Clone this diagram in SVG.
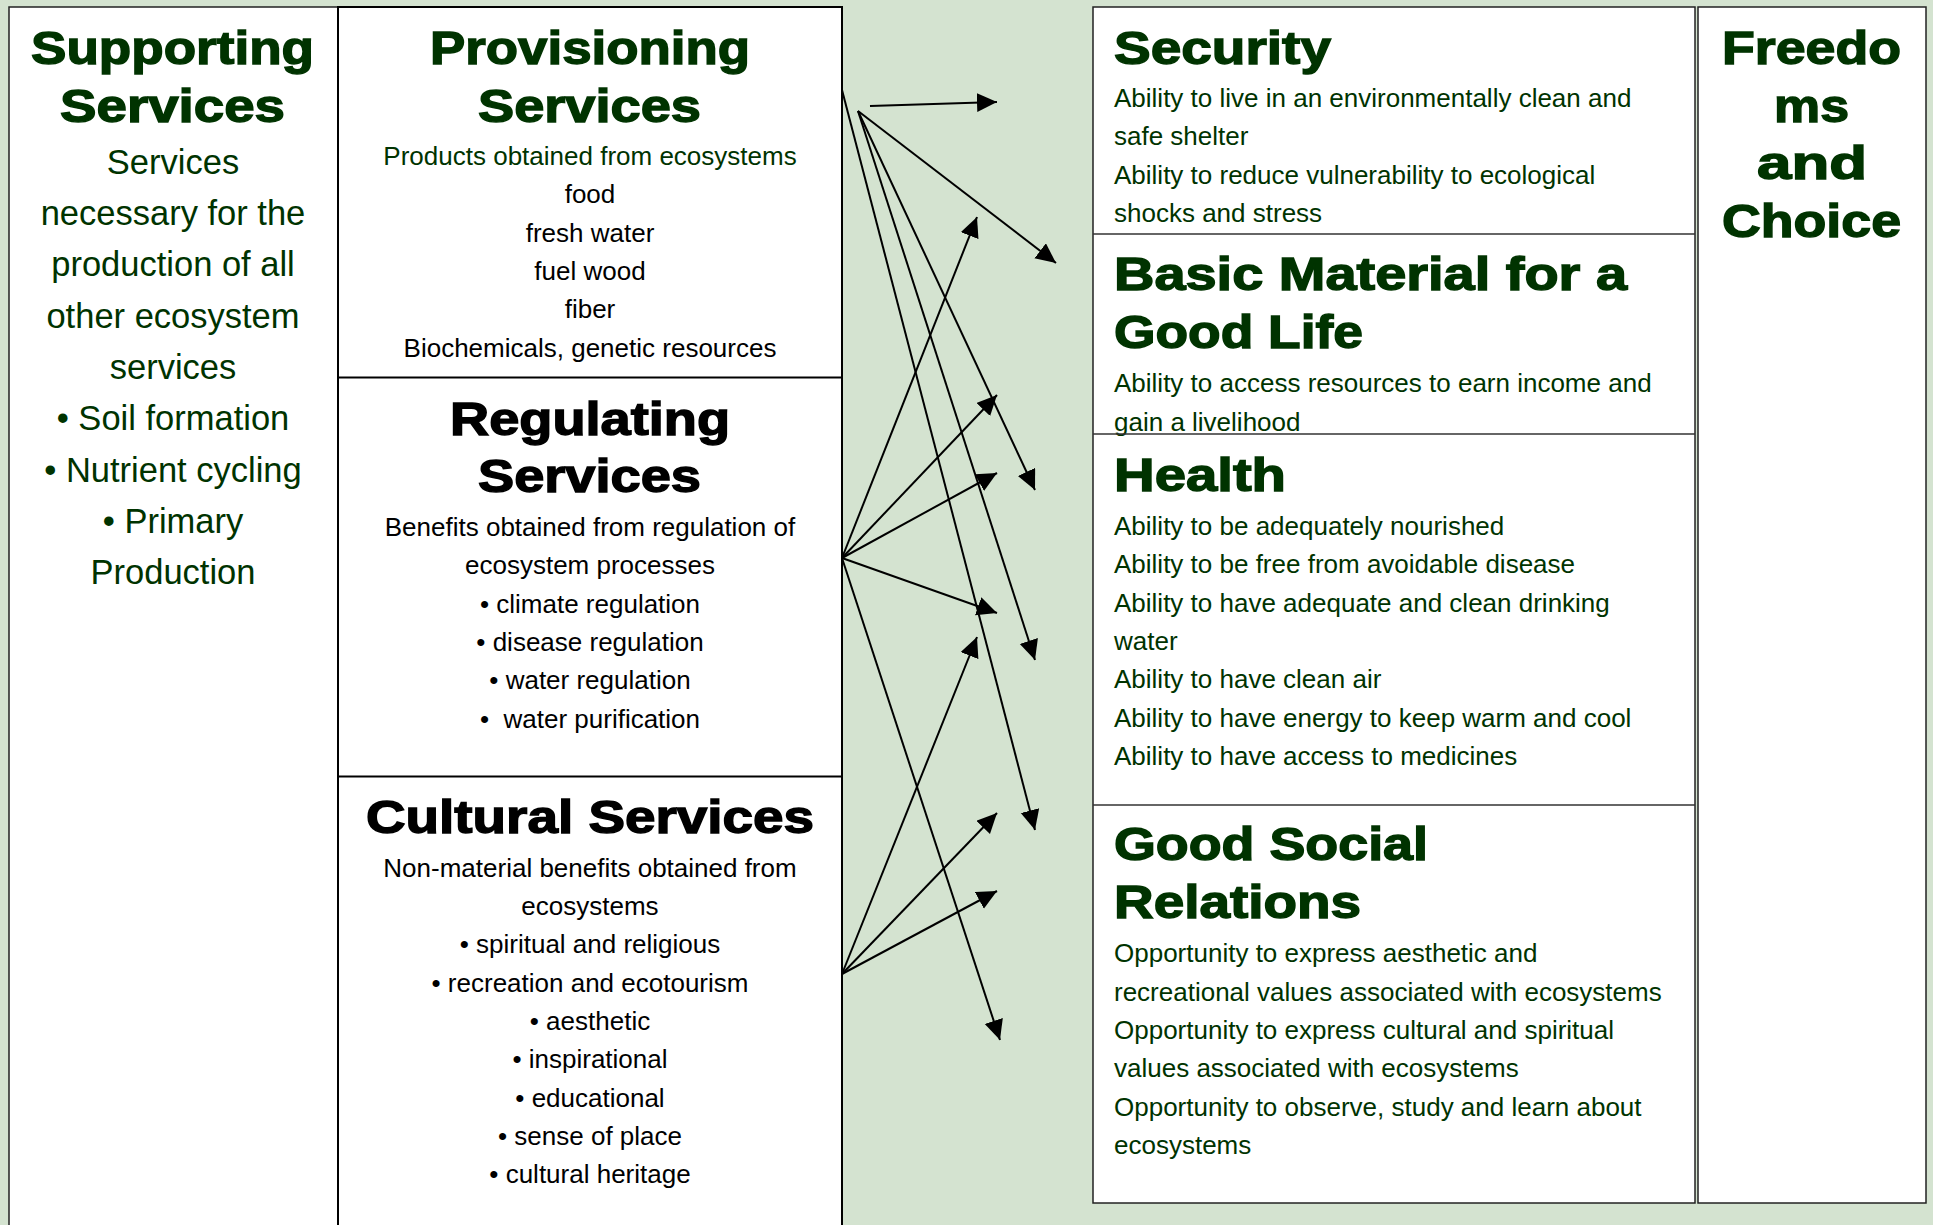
<svg xmlns="http://www.w3.org/2000/svg" width="1933" height="1225" viewBox="0 0 1933 1225">
<defs>
<style>
.box{fill:#fff;stroke:#222;stroke-width:1.5}
.mbox{fill:#fff;stroke:#000;stroke-width:2}
.div{stroke:#333;stroke-width:1.5}
.mdiv{stroke:#000;stroke-width:2}
.tg{font-family:"Liberation Sans",Arial,sans-serif;font-weight:bold;font-size:47px;fill:#003300;stroke:#003300;stroke-width:1.4}
.tb{font-family:"Liberation Sans",Arial,sans-serif;font-weight:bold;font-size:47px;fill:#000;stroke:#000;stroke-width:1.4}
.bg{font-family:"Liberation Sans",Arial,sans-serif;font-size:26px;fill:#003300}
.bb{font-family:"Liberation Sans",Arial,sans-serif;font-size:26px;fill:#000}
.lg{font-family:"Liberation Sans",Arial,sans-serif;font-size:34.5px;fill:#003300}
.c{text-anchor:middle}
.pre{white-space:pre}
.arr{stroke:#000;stroke-width:2;fill:none;marker-end:url(#ah)}
</style>
<marker id="ah" markerUnits="userSpaceOnUse" markerWidth="21" markerHeight="20" refX="20" refY="9.5" orient="auto">
<path d="M0,0 L20,9.5 L0,19 z" fill="#000"/>
</marker>
</defs>
<rect x="0" y="0" width="1933" height="1225" fill="#d4e3d0"/>

<g id="supporting">
<rect class="box" x="9" y="7" width="329" height="1230"/>
<text class="tg" x="31" y="64" textLength="283" lengthAdjust="spacingAndGlyphs">Supporting</text>
<text class="tg" x="60" y="122" textLength="225" lengthAdjust="spacingAndGlyphs">Services</text>
<text class="lg c" x="173" y="174">Services</text>
<text class="lg c" x="173" y="225">necessary for the</text>
<text class="lg c" x="173" y="276">production of all</text>
<text class="lg c" x="173" y="328">other ecosystem</text>
<text class="lg c" x="173" y="379">services</text>
<text class="lg c" x="173" y="430">• Soil formation</text>
<text class="lg c" x="173" y="482">• Nutrient cycling</text>
<text class="lg c" x="173" y="533">• Primary</text>
<text class="lg c" x="173" y="584">Production</text>
</g>

<g id="middle-column">
<rect class="mbox" x="338" y="7" width="504" height="1230"/>
</g>

<g id="provisioning">
<text class="tg" x="430" y="64" textLength="320" lengthAdjust="spacingAndGlyphs">Provisioning</text>
<text class="tg" x="478" y="122" textLength="223" lengthAdjust="spacingAndGlyphs">Services</text>
<text class="bg c" x="590" y="165">Products obtained from ecosystems</text>
<text class="bb c" x="590" y="203">food</text>
<text class="bb c" x="590" y="242">fresh water</text>
<text class="bb c" x="590" y="280">fuel wood</text>
<text class="bb c" x="590" y="318">fiber</text>
<text class="bb c" x="590" y="357">Biochemicals, genetic resources</text>
</g>

<g id="regulating">
<line class="mdiv" x1="338" y1="377.5" x2="842" y2="377.5"/>
<text class="tb" x="450" y="435" textLength="280" lengthAdjust="spacingAndGlyphs">Regulating</text>
<text class="tb" x="478" y="492" textLength="223" lengthAdjust="spacingAndGlyphs">Services</text>
<text class="bb c" x="590" y="536">Benefits obtained from regulation of</text>
<text class="bb c" x="590" y="574">ecosystem processes</text>
<text class="bb c" x="590" y="613">• climate regulation</text>
<text class="bb c" x="590" y="651">• disease regulation</text>
<text class="bb c" x="590" y="689">• water regulation</text>
<text class="bb c pre" x="590" y="728">•  water purification</text>
</g>

<g id="cultural">
<line class="mdiv" x1="338" y1="776.5" x2="842" y2="776.5"/>
<text class="tb" x="366" y="833" textLength="448" lengthAdjust="spacingAndGlyphs">Cultural Services</text>
<text class="bb c" x="590" y="877">Non-material benefits obtained from</text>
<text class="bb c" x="590" y="915">ecosystems</text>
<text class="bb c" x="590" y="953">• spiritual and religious</text>
<text class="bb c" x="590" y="992">• recreation and ecotourism</text>
<text class="bb c" x="590" y="1030">• aesthetic</text>
<text class="bb c" x="590" y="1068">• inspirational</text>
<text class="bb c" x="590" y="1107">• educational</text>
<text class="bb c" x="590" y="1145">• sense of place</text>
<text class="bb c" x="590" y="1183">• cultural heritage</text>
</g>

<g id="wellbeing-column">
<rect class="box" x="1093" y="7" width="602" height="1196"/>
</g>

<g id="security">
<text class="tg" x="1114" y="64" textLength="217" lengthAdjust="spacingAndGlyphs">Security</text>
<text class="bg" x="1114" y="107">Ability to live in an environmentally clean and</text>
<text class="bg" x="1114" y="145">safe shelter</text>
<text class="bg" x="1114" y="184">Ability to reduce vulnerability to ecological</text>
<text class="bg" x="1114" y="222">shocks and stress</text>
</g>

<g id="basic-material">
<line class="div" x1="1093" y1="234" x2="1695" y2="234"/>
<text class="tg" x="1114" y="290" textLength="513" lengthAdjust="spacingAndGlyphs">Basic Material for a</text>
<text class="tg" x="1114" y="348" textLength="249" lengthAdjust="spacingAndGlyphs">Good Life</text>
<text class="bg" x="1114" y="392">Ability to access resources to earn income and</text>
<text class="bg" x="1114" y="431">gain a livelihood</text>
</g>

<g id="health">
<line class="div" x1="1093" y1="434" x2="1695" y2="434"/>
<text class="tg" x="1114" y="491" textLength="172" lengthAdjust="spacingAndGlyphs">Health</text>
<text class="bg" x="1114" y="535">Ability to be adequately nourished</text>
<text class="bg" x="1114" y="573">Ability to be free from avoidable disease</text>
<text class="bg" x="1114" y="612">Ability to have adequate and clean drinking</text>
<text class="bg" x="1114" y="650">water</text>
<text class="bg" x="1114" y="688">Ability to have clean air</text>
<text class="bg" x="1114" y="727">Ability to have energy to keep warm and cool</text>
<text class="bg" x="1114" y="765">Ability to have access to medicines</text>
</g>

<g id="social-relations">
<line class="div" x1="1093" y1="805" x2="1695" y2="805"/>
<text class="tg" x="1114" y="860" textLength="314" lengthAdjust="spacingAndGlyphs">Good Social</text>
<text class="tg" x="1114" y="918" textLength="247" lengthAdjust="spacingAndGlyphs">Relations</text>
<text class="bg" x="1114" y="962">Opportunity to express aesthetic and</text>
<text class="bg" x="1114" y="1001">recreational values associated with ecosystems</text>
<text class="bg" x="1114" y="1039">Opportunity to express cultural and spiritual</text>
<text class="bg" x="1114" y="1077">values associated with ecosystems</text>
<text class="bg" x="1114" y="1116">Opportunity to observe, study and learn about</text>
<text class="bg" x="1114" y="1154">ecosystems</text>
</g>

<g id="freedoms">
<rect class="box" x="1698" y="7" width="228" height="1196"/>
<text class="tg" x="1722" y="64" textLength="179" lengthAdjust="spacingAndGlyphs">Freedo</text>
<text class="tg" x="1774" y="122" textLength="75" lengthAdjust="spacingAndGlyphs">ms</text>
<text class="tg" x="1757" y="179" textLength="110" lengthAdjust="spacingAndGlyphs">and</text>
<text class="tg" x="1722" y="237" textLength="179" lengthAdjust="spacingAndGlyphs">Choice</text>
</g>

<g id="connectors">
<line class="arr" x1="870" y1="106" x2="997" y2="102"/>
<line class="arr" x1="858" y1="111" x2="1056" y2="263"/>
<line class="arr" x1="858" y1="111" x2="1035" y2="490"/>
<line class="arr" x1="858" y1="111" x2="1035" y2="660"/>
<line class="arr" x1="842" y1="90" x2="1035" y2="830"/>
<line class="arr" x1="842" y1="558" x2="977" y2="217"/>
<line class="arr" x1="842" y1="558" x2="997" y2="395"/>
<line class="arr" x1="842" y1="558" x2="997" y2="473"/>
<line class="arr" x1="842" y1="558" x2="997" y2="613"/>
<line class="arr" x1="842" y1="558" x2="1000" y2="1040"/>
<line class="arr" x1="842" y1="974" x2="977" y2="637"/>
<line class="arr" x1="842" y1="974" x2="997" y2="813"/>
<line class="arr" x1="842" y1="974" x2="997" y2="891"/>
</g>
</svg>
